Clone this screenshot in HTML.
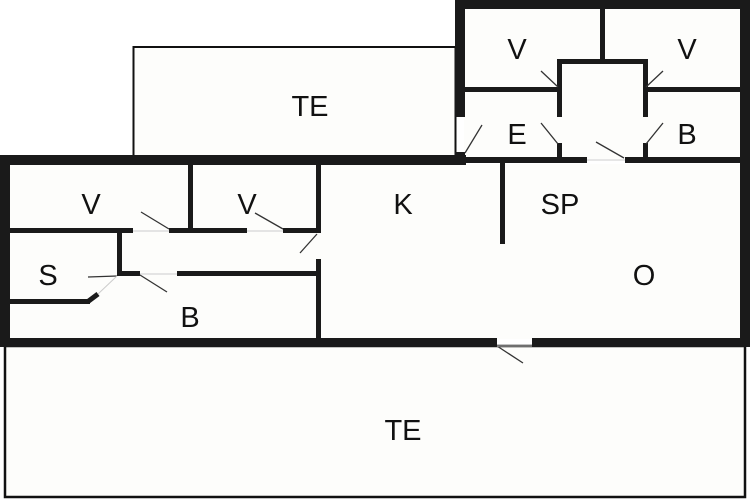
<!DOCTYPE html>
<html><head><meta charset="utf-8"><style>
html,body{margin:0;padding:0;background:#fff;}
svg{display:block;}
text{font-family:"Liberation Sans",sans-serif;font-size:29px;fill:#111;text-anchor:middle;}
</style></head><body>
<svg width="750" height="500" viewBox="0 0 750 500" xmlns="http://www.w3.org/2000/svg">
<rect width="750" height="500" fill="#fff"/>
<!-- terraces -->
<rect x="133.5" y="47" width="322" height="110" fill="#fdfdfb" stroke="#111" stroke-width="2"/>
<rect x="5" y="346" width="740" height="151" fill="#fdfdfb" stroke="#111" stroke-width="2.5"/>
<!-- floor fill -->
<rect x="10" y="164" width="731" height="175" fill="#fdfdfb"/>
<rect x="464" y="9" width="277" height="150" fill="#fdfdfb"/>
<g fill="#1a1a1a">
<!-- outer walls -->
<rect x="0" y="155" width="466" height="10"/>
<rect x="464" y="157" width="123" height="6"/>
<rect x="625" y="157" width="116" height="6"/>
<rect x="0" y="155" width="10" height="192"/>
<rect x="0" y="338" width="497" height="9"/>
<rect x="532" y="338" width="218" height="9"/>
<rect x="740" y="0" width="10" height="347"/>
<rect x="455" y="0" width="295" height="9"/>
<rect x="455" y="0" width="10" height="117"/>
<rect x="455" y="152" width="10" height="12"/>
<!-- upper block interior -->
<rect x="600" y="8" width="5" height="56"/>
<rect x="557" y="59" width="91" height="5"/>
<rect x="465" y="87" width="97" height="5"/>
<rect x="648" y="87" width="93" height="5"/>
<rect x="557" y="59" width="5" height="58"/>
<rect x="557" y="143" width="5" height="17"/>
<rect x="643" y="59" width="5" height="58"/>
<rect x="643" y="143" width="5" height="17"/>
<!-- lower left interior -->
<rect x="10" y="228" width="123" height="5"/>
<rect x="169" y="228" width="78" height="5"/>
<rect x="283" y="228" width="37" height="5"/>
<rect x="188" y="163" width="5" height="67"/>
<rect x="316" y="163" width="5" height="70"/>
<rect x="316" y="259" width="5" height="81"/>
<rect x="117" y="230" width="5" height="45"/>
<rect x="117" y="271" width="23" height="5"/>
<rect x="177" y="271" width="142" height="5"/>
<rect x="10" y="299" width="80" height="5"/>
<rect x="500" y="163" width="5" height="81"/>
</g>
<polyline points="88,301.5 98,294" stroke="#1a1a1a" stroke-width="5" fill="none"/>
<!-- door swings / leafs -->
<g stroke="#333" stroke-width="1.3" fill="none">
<line x1="141" y1="212" x2="169" y2="229"/>
<line x1="255" y1="213" x2="283" y2="229"/>
<line x1="300" y1="253" x2="317" y2="234"/>
<line x1="88" y1="277" x2="117" y2="276"/>
<line x1="140" y1="275" x2="167" y2="292"/>
<line x1="497" y1="346" x2="523" y2="363"/>
<line x1="465" y1="153" x2="482" y2="125"/>
<line x1="541" y1="71" x2="558" y2="87"/>
<line x1="541" y1="123" x2="558" y2="144"/>
<line x1="663" y1="71" x2="646" y2="87"/>
<line x1="663" y1="123" x2="646" y2="144"/>
<line x1="596" y1="142" x2="624" y2="158"/>
</g>
<g stroke="#ccc" stroke-width="1" fill="none">
<line x1="133" y1="231" x2="169" y2="231"/>
<line x1="247" y1="231" x2="283" y2="231"/>
<line x1="140" y1="274" x2="177" y2="274"/>
<line x1="98" y1="294" x2="117" y2="276"/>
<line x1="497" y1="346" x2="532" y2="346"/>
<line x1="587" y1="160" x2="625" y2="160"/>
</g>
<!-- labels -->
<text x="310" y="116">TE</text>
<text x="517" y="59">V</text>
<text x="687" y="59">V</text>
<text x="517" y="144">E</text>
<text x="687" y="144">B</text>
<text x="91" y="214">V</text>
<text x="247" y="214">V</text>
<text x="403" y="214">K</text>
<text x="560" y="214">SP</text>
<text x="48" y="285">S</text>
<text x="644" y="285">O</text>
<text x="190" y="327">B</text>
<text x="403" y="440">TE</text>
</svg>
</body></html>
